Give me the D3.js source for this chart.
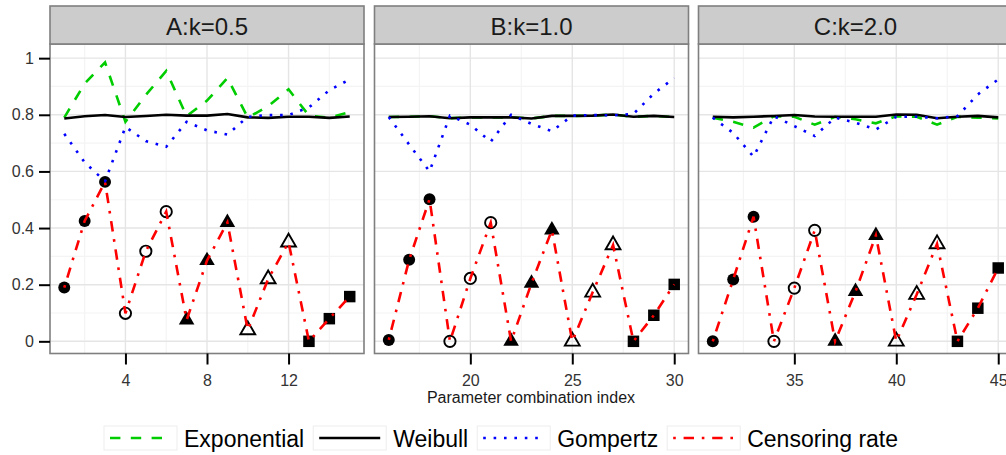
<!DOCTYPE html>
<html>
<head>
<meta charset="utf-8">
<script src="https://cdn.jsdelivr.net/npm/d3@7"></script>
<style>
body { margin: 0; background: #fff; }
svg { display: block; font-family: "Liberation Sans", Arial, sans-serif; }
</style>
</head>
<body>
<div id="chart"></div>
<script>
var panels = ['A:k=0.5', 'B:k=1.0', 'C:k=2.0']
var index = [1, 2, 3, 4, 5, 6, 7, 8, 9, 10, 11, 12, 13, 14, 15,
			16, 17, 18, 19, 20, 21, 22, 23, 24, 25, 26, 27, 28, 29, 30,
			31, 32, 33, 34, 35, 36, 37, 38, 39, 40, 41, 42, 43, 44, 45]

var exponential = [0.79, 0.91, 0.985, 0.775, 0.87, 0.955, 0.795, 0.85, 0.93, 0.79, 0.83, 0.89, 0.797, 0.79, 0.81,
			0.792, 0.793, 0.795, 0.788, 0.791, 0.791, 0.791, 0.787, 0.796, 0.796, 0.797, 0.801, 0.793, 0.796, 0.792,
			0.79, 0.775, 0.755, 0.795, 0.793, 0.765, 0.793, 0.784, 0.77, 0.795, 0.793, 0.765, 0.793, 0.79, 0.787]
var weibull = [0.787, 0.795, 0.799, 0.792, 0.796, 0.8, 0.797, 0.797, 0.803, 0.791, 0.789, 0.793, 0.793, 0.789, 0.794,
			0.792, 0.793, 0.795, 0.788, 0.791, 0.791, 0.791, 0.787, 0.796, 0.796, 0.797, 0.801, 0.793, 0.796, 0.792,
			0.793, 0.791, 0.793, 0.796, 0.799, 0.794, 0.793, 0.793, 0.793, 0.801, 0.8, 0.788, 0.793, 0.796, 0.791]
var gompertz = [0.733, 0.632, 0.565, 0.757, 0.707, 0.687, 0.775, 0.745, 0.73, 0.793, 0.799, 0.799, 0.826, 0.887, 0.925,
			0.792, 0.695, 0.6, 0.797, 0.765, 0.705, 0.8, 0.768, 0.742, 0.797, 0.799, 0.798, 0.803, 0.875, 0.93,
			0.79, 0.736, 0.652, 0.795, 0.76, 0.725, 0.79, 0.772, 0.748, 0.793, 0.793, 0.788, 0.795, 0.872, 0.925]
var censoring = [0.19, 0.425, 0.563, 0.099, 0.318, 0.458, 0.075, 0.285, 0.42, 0.04, 0.22, 0.35, 0.0, 0.08, 0.158,
			0.005, 0.288, 0.502, 0.0, 0.222, 0.419, 0.0, 0.205, 0.393, 0.0, 0.173, 0.34, 0.0, 0.092, 0.201,
			0.0, 0.218, 0.44, 0.0, 0.188, 0.392, 0.0, 0.176, 0.374, 0.0, 0.165, 0.344, 0.0, 0.117, 0.259]

// marker shape changes every 3 indices inside a panel
var shapes = ['circle', 'circleOpen', 'triangle', 'triangleOpen', 'square']

var yTicks = [0, 0.2, 0.4, 0.6, 0.8, 1]
var yMinor = [0.1, 0.3, 0.5, 0.7, 0.9]
var xTicks = [[4, 8, 12], [20, 25, 30], [35, 40, 45]]
var xMinor = [[2, 6, 10, 14], [17.5, 22.5, 27.5], [32.5, 37.5, 42.5]]

var series = [
	{'name': 'Exponential', 'values': exponential, 'color': '#00cd00', 'dash': '10.4,10.4'},
	{'name': 'Weibull', 'values': weibull, 'color': '#000000', 'dash': null},
	{'name': 'Gompertz', 'values': gompertz, 'color': '#0000ff', 'dash': '2.6,7.8'},
	{'name': 'Censoring rate', 'values': censoring, 'color': '#ff0000', 'dash': '2.6,7.8,10.4,7.8'}
]

var width = 1006
var height = 455
var panelLeft = [50, 374.5, 698.5]
var panelW = 314
var panelTop = 44
var panelBottom = 353.5
var stripTop = 6
var lw = 2.6

var svg = d3.select('#chart')
	.append('svg')
		.attr('width', width)
		.attr('height', height)

var y = d3.scaleLinear()
	.domain([-0.043, 1.05])
	.range([panelBottom, panelTop])

var line = d3.line()
	.x(function(d) { return d.x })
	.y(function(d) { return y(d.v) })

panels.forEach(function(title, p) {
	var ids = index.filter(function(d, i) { return Math.floor(i / 15) == p })
	var lo = d3.min(ids), hi = d3.max(ids)
	var pad = (hi - lo) * 0.05
	var x = d3.scaleLinear()
		.domain([lo - pad, hi + pad])
		.range([panelLeft[p], panelLeft[p] + panelW])

	var g = svg.append('g')

	g.append('rect')
		.attr('x', panelLeft[p]).attr('y', panelTop)
		.attr('width', panelW).attr('height', panelBottom - panelTop)
		.attr('fill', '#fff')

	g.selectAll('.ymin').data(yMinor).enter().append('line')
		.attr('x1', panelLeft[p]).attr('x2', panelLeft[p] + panelW)
		.attr('y1', function(d) { return y(d) }).attr('y2', function(d) { return y(d) })
		.attr('stroke', '#f4f4f4').attr('stroke-width', 1.2)
	g.selectAll('.xmin').data(xMinor[p]).enter().append('line')
		.attr('y1', panelTop).attr('y2', panelBottom)
		.attr('x1', function(d) { return x(d) }).attr('x2', function(d) { return x(d) })
		.attr('stroke', '#f4f4f4').attr('stroke-width', 1.2)
	g.selectAll('.ymaj').data(yTicks).enter().append('line')
		.attr('x1', panelLeft[p]).attr('x2', panelLeft[p] + panelW)
		.attr('y1', function(d) { return y(d) }).attr('y2', function(d) { return y(d) })
		.attr('stroke', '#e5e5e5').attr('stroke-width', 1.4)
	g.selectAll('.xmaj').data(xTicks[p]).enter().append('line')
		.attr('y1', panelTop).attr('y2', panelBottom)
		.attr('x1', function(d) { return x(d) }).attr('x2', function(d) { return x(d) })
		.attr('stroke', '#e5e5e5').attr('stroke-width', 1.4)

	var pts = ids.map(function(id) {
		var i = index.indexOf(id)
		return {'x': x(id), 'v': censoring[i], 'shape': shapes[Math.floor((i % 15) / 3)]}
	})

	g.selectAll('.pt').data(pts).enter().append('path')
		.attr('transform', function(d) { return 'translate(' + d.x + ',' + y(d.v) + ')' })
		.attr('d', function(d) {
			if (d.shape == 'circle') return d3.symbol(d3.symbolCircle, 112)()
			if (d.shape == 'circleOpen') return d3.symbol(d3.symbolCircle, 100)()
			if (d.shape == 'triangle') return d3.symbol(d3.symbolTriangle, 105)()
			if (d.shape == 'triangleOpen') return d3.symbol(d3.symbolTriangle, 95)()
			return d3.symbol(d3.symbolSquare, 132)()
		})
		.attr('fill', function(d) { return d.shape.indexOf('Open') > 0 ? 'none' : '#000' })
		.attr('stroke', '#000')
		.attr('stroke-width', function(d) { return d.shape.indexOf('Open') > 0 ? 1.9 : 0 })

	series.forEach(function(s) {
		var pts2 = ids.map(function(id) { return {'x': x(id), 'v': s.values[index.indexOf(id)]} })
		g.append('path')
			.attr('d', line(pts2))
			.attr('fill', 'none')
			.attr('stroke', s.color)
			.attr('stroke-width', lw)
			.attr('stroke-dasharray', s.dash)
	})

	g.append('rect')
		.attr('x', panelLeft[p]).attr('y', panelTop)
		.attr('width', panelW).attr('height', panelBottom - panelTop)
		.attr('fill', 'none').attr('stroke', '#7f7f7f').attr('stroke-width', 1.6)

	g.append('rect')
		.attr('x', panelLeft[p]).attr('y', stripTop)
		.attr('width', panelW).attr('height', panelTop - stripTop)
		.attr('fill', '#cccccc').attr('stroke', '#7f7f7f').attr('stroke-width', 1.6)
	g.append('text')
		.attr('x', panelLeft[p] + panelW / 2).attr('y', 35)
		.attr('text-anchor', 'middle')
		.style('font-size', '24px').attr('fill', '#1a1a1a')
		.text(title)

	var xa = g.append('g')
		.attr('transform', 'translate(0,' + panelBottom + ')')
		.call(d3.axisBottom(x).tickValues(xTicks[p]).tickSize(11).tickPadding(10))
	xa.select('.domain').remove()
	xa.selectAll('line').attr('stroke', '#000').attr('stroke-width', 2)
	xa.selectAll('text').style('font-size', '16px').style('font-family', 'Liberation Sans, Arial, sans-serif').attr('fill', '#333')

	if (p == 0) {
		var ya = g.append('g')
			.attr('transform', 'translate(' + panelLeft[p] + ',0)')
			.call(d3.axisLeft(y).tickValues(yTicks).tickFormat(d3.format('~g')).tickSize(11).tickPadding(5))
		ya.select('.domain').remove()
		ya.selectAll('line').attr('stroke', '#000').attr('stroke-width', 2)
		ya.selectAll('text').style('font-size', '16px').style('font-family', 'Liberation Sans, Arial, sans-serif').attr('fill', '#333')
	}
})

svg.append('text')
	.attr('x', 531).attr('y', 403)
	.attr('text-anchor', 'middle')
	.style('font-size', '16px')
	.attr('fill', '#1a1a1a')
	.text('Parameter combination index')

var lx = 104
series.forEach(function(s) {
	var lg = svg.append('g')
	lg.append('rect')
		.attr('x', lx).attr('y', 426).attr('width', 73).attr('height', 24)
		.attr('fill', '#fff').attr('stroke', '#ededed')
	lg.append('line')
		.attr('x1', lx + 6).attr('x2', lx + 67).attr('y1', 438).attr('y2', 438)
		.attr('stroke', s.color).attr('stroke-width', lw)
		.attr('stroke-dasharray', s.dash)
	var t = lg.append('text')
		.attr('x', lx + 80).attr('y', 446.5)
		.style('font-size', '23px').attr('fill', '#000')
		.text(s.name)
	lx = lx + 80 + t.node().getComputedTextLength() + 9
})
</script>
</body>
</html>
